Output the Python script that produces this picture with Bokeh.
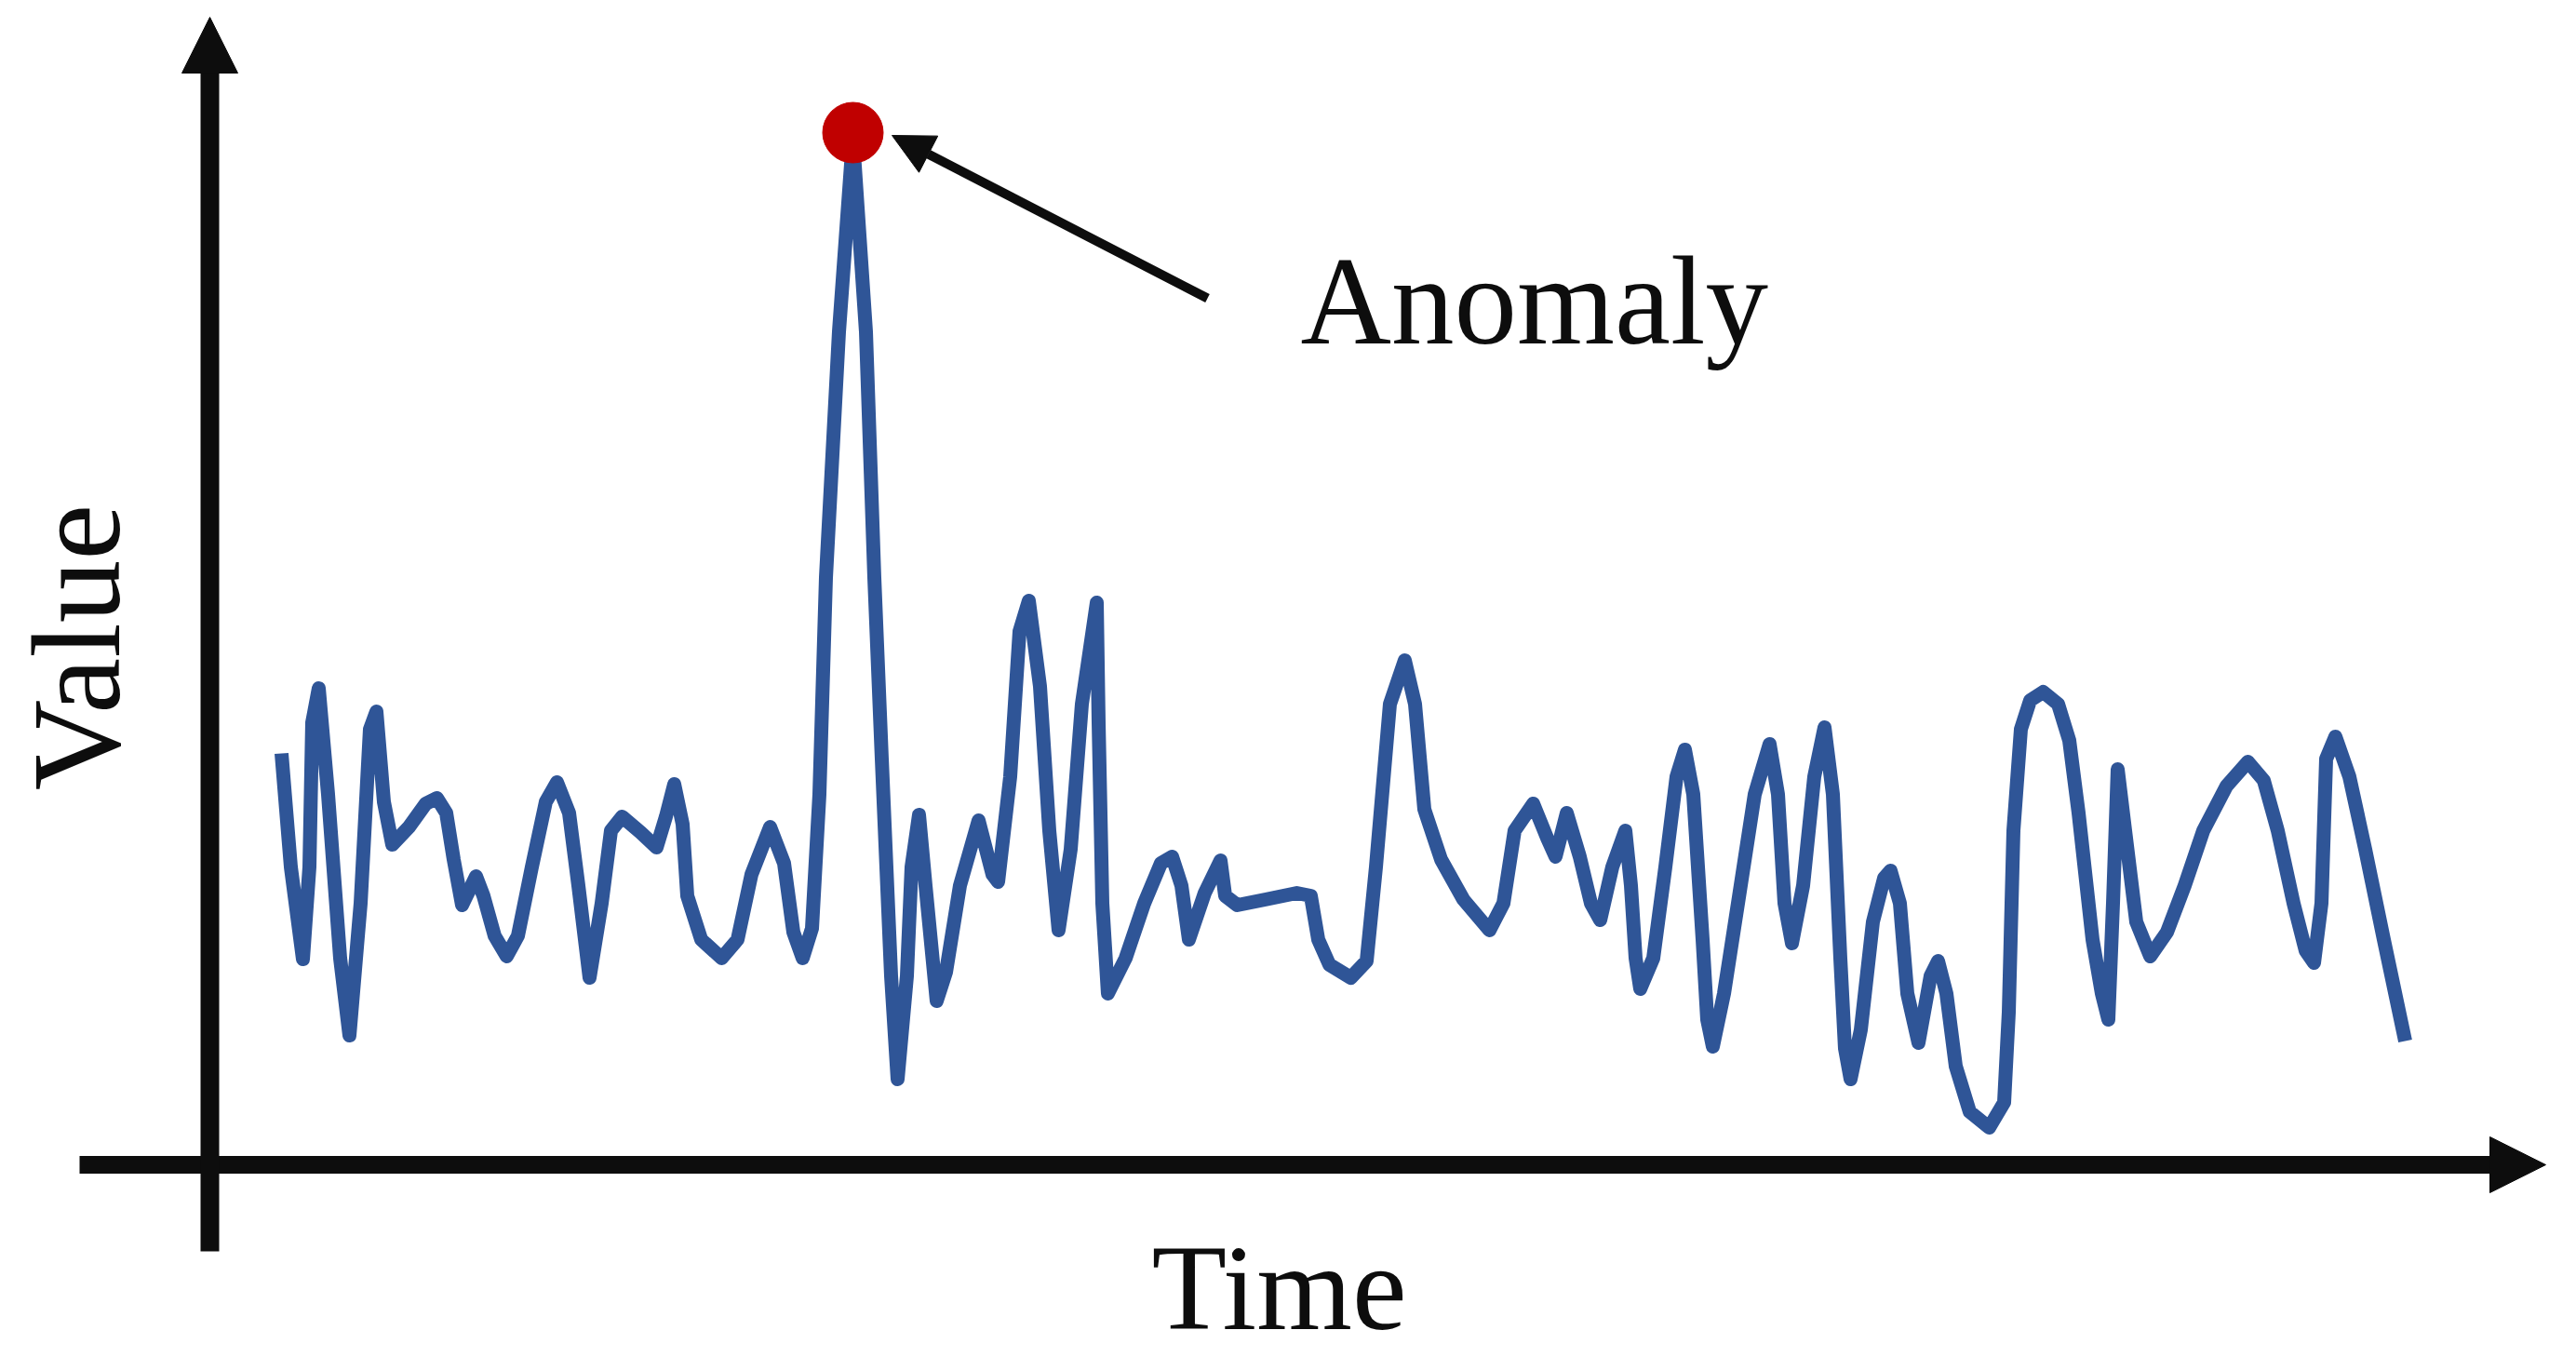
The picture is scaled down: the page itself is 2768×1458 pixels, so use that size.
from bokeh.plotting import figure
from bokeh.models import Range1d, Arrow, NormalHead, Label
from bokeh.embed import file_html
from bokeh.resources import INLINE

# ---- data (time index, value) ----
time = [77, 87, 100, 107, 110, 117, 127, 140, 150, 162,
        172, 179, 187, 196, 214, 232, 244, 254, 262, 271,
        286, 294, 306, 319, 331, 346, 361, 373, 386, 396,
        408, 421, 431, 443, 463, 480, 490, 499, 508, 513,
        528, 550, 567, 582, 602, 617, 627, 637, 647, 655,
        662, 676, 691, 705, 714, 722, 732, 739, 749, 754,
        762, 769, 781, 791, 806, 826, 841, 847, 860, 870,
        880, 892, 902, 912, 925, 937, 953, 955, 959, 965,
        984, 1004, 1022, 1034, 1044, 1052, 1069, 1086, 1091, 1104,
        1134, 1168, 1183, 1191, 1203, 1226, 1243, 1253, 1268, 1284,
        1295, 1305, 1323, 1347, 1375, 1390, 1402, 1422, 1437, 1446,
        1458, 1472, 1484, 1494, 1507, 1521, 1527, 1532, 1537, 1551,
        1564, 1576, 1585, 1594, 1604, 1609, 1615, 1627, 1642, 1660,
        1676, 1685, 1692, 1700, 1712, 1724, 1735, 1744, 1752, 1757,
        1763, 1774, 1787, 1799, 1806, 1816, 1824, 1836, 1849, 1857,
        1866, 1876, 1891, 1912, 1928, 1933, 1938, 1946, 1956, 1970,
        1986, 1998, 2008, 2023, 2033, 2040, 2045, 2050, 2058, 2070,
        2085, 2103, 2122, 2142, 2167, 2190, 2207, 2222, 2239, 2252,
        2261, 2269, 2274, 2284, 2299, 2316, 2336, 2359]
values = [442, 320, 221, 320, 475, 512, 398, 222, 139, 281,
          468, 487, 390, 344, 363, 388, 394, 378, 328, 279,
          310, 289, 246, 224, 246, 320, 390, 411, 378, 300,
          201, 281, 359, 374, 357, 341, 374, 409, 366, 289,
          242, 222, 242, 312, 363, 324, 250, 222, 254, 398,
          631, 895, 1103, 895, 631, 436, 203, 92, 203, 320,
          376, 300, 176, 207, 300, 370, 312, 304, 417, 573,
          606, 514, 359, 252, 339, 495, 604, 475, 281, 184,
          222, 281, 324, 331, 300, 242, 292, 327, 289, 279,
          285, 292, 289, 242, 215, 201, 219, 320, 495, 542,
          495, 382, 328, 285, 252, 281, 359, 388, 351, 331,
          378, 331, 281, 263, 320, 359, 300, 222, 189, 222,
          320, 417, 446, 398, 242, 156, 127, 184, 281, 398,
          452, 398, 281, 238, 300, 417, 470, 398, 222, 125,
          92, 145, 261, 308, 316, 281, 184, 131, 203, 219,
          184, 106, 57, 40, 67, 164, 359, 468, 499, 508,
          495, 456, 378, 242, 184, 156, 281, 425, 359, 261,
          224, 250, 300, 359, 407, 433, 413, 359, 281, 230,
          217, 281, 436, 460, 417, 339, 242, 133]
anomaly_index = values.index(max(values))
anomaly_text = "Anomaly"
x_label = "Time"
y_label = "Value"

BLUE = "#2F5597"
RED = "#C00000"
INK = "#0D0D0D"
FONT = "Liberation Serif"

W, H = 2768, 1458
x0 = -225
y1 = 1251
p = figure(width=W, height=H, output_backend="svg", toolbar_location=None,
           x_range=Range1d(x0, x0 + W), y_range=Range1d(y1 - H, y1),
           min_border=0)
p.axis.visible = False
p.grid.visible = False
p.outline_line_color = None
p.background_fill_color = "white"
p.border_fill_color = "white"

# axes drawn as arrows
p.add_layout(Arrow(x_start=-140, y_start=0, x_end=2510, y_end=0,
                   line_width=19, line_color=INK,
                   end=NormalHead(size=60, fill_color=INK, line_color=INK, line_width=1)))
p.add_layout(Arrow(x_start=0, y_start=-93, x_end=0, y_end=1233,
                   line_width=20, line_color=INK,
                   end=NormalHead(size=60, fill_color=INK, line_color=INK, line_width=1)))

# series
p.line(time, values, line_color=BLUE, line_width=15, line_join="round", line_cap="butt")

# anomaly point
p.scatter([time[anomaly_index]], [values[anomaly_index] + 6], size=65,
          fill_color=RED, line_color=RED)

# annotation arrow
p.add_layout(Arrow(x_start=1072, y_start=931, x_end=733, y_end=1106,
                   line_width=10, line_color=INK,
                   end=NormalHead(size=44, fill_color=INK, line_color=INK, line_width=1)))

p.add_layout(Label(x=1172, y=928, text=anomaly_text, text_font=FONT,
                   text_font_size="135px", text_color=INK,
                   text_align="left", text_baseline="alphabetic"))
p.add_layout(Label(x=1149, y=-132, text=x_label, text_font=FONT,
                   text_font_size="132px", text_color=INK,
                   text_align="center", text_baseline="alphabetic"))
p.add_layout(Label(x=-143, y=556, text=y_label, text_font=FONT,
                   text_font_size="135px", text_color=INK, angle=1.5707963,
                   text_align="center", text_baseline="alphabetic"))

open("out.html", "w").write(file_html(p, INLINE))
